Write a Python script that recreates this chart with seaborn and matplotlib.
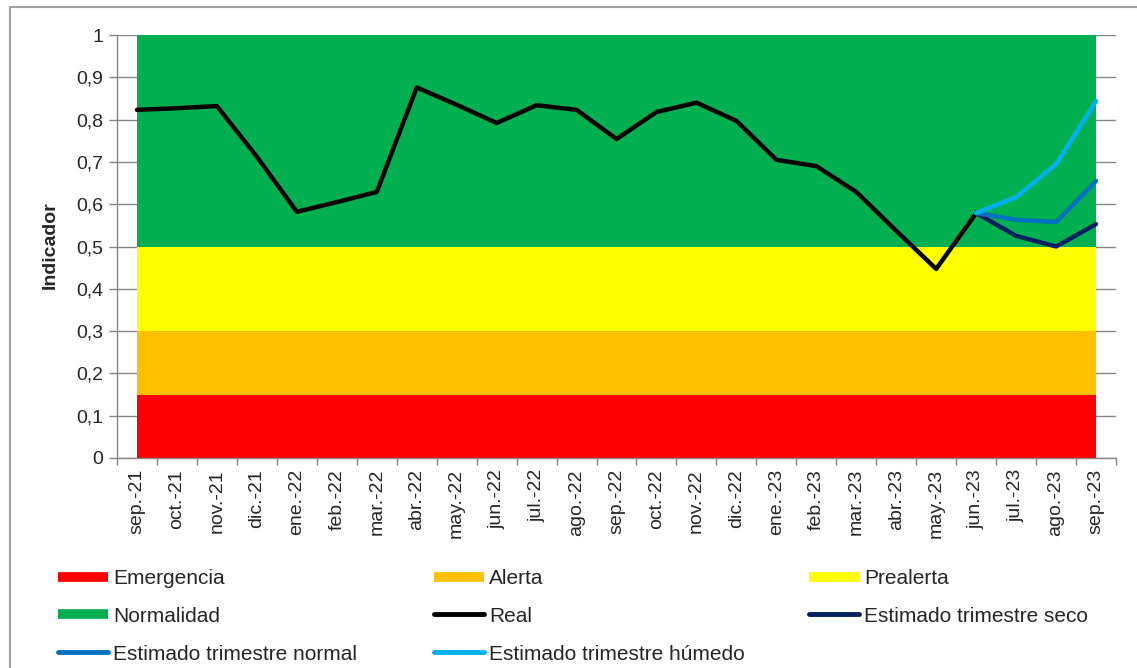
import numpy as np
import pandas as pd
import matplotlib
matplotlib.use("Agg")
import matplotlib.pyplot as plt
import seaborn as sns
from matplotlib.lines import Line2D
from matplotlib.patches import Rectangle

# ---------------- data ----------------
months = ['sep.-21', 'oct.-21', 'nov.-21', 'dic.-21', 'ene.-22', 'feb.-22', 'mar.-22',
          'abr.-22', 'may.-22', 'jun.-22', 'jul.-22', 'ago.-22', 'sep.-22', 'oct.-22',
          'nov.-22', 'dic.-22', 'ene.-23', 'feb.-23', 'mar.-23', 'abr.-23', 'may.-23',
          'jun.-23', 'jul.-23', 'ago.-23', 'sep.-23']

real = [0.823, 0.827, 0.832, 0.712, 0.582, 0.605, 0.629, 0.876, 0.835, 0.792, 0.834,
        0.823, 0.754, 0.818, 0.840, 0.797, 0.705, 0.690, 0.629, 0.537, 0.447, 0.579]

est_months = ['jun.-23', 'jul.-23', 'ago.-23', 'sep.-23']
est_seco = [0.579, 0.525, 0.500, 0.553]
est_normal = [0.579, 0.563, 0.558, 0.655]
est_humedo = [0.579, 0.617, 0.695, 0.844]

band_names = ['Emergencia', 'Alerta', 'Prealerta', 'Normalidad']
band_heights = [0.15, 0.15, 0.20, 0.50]   # stacked thickness of each zone
band_colors = ['#FF0000', '#FFC000', '#FFFF00', '#00B050']

yticks = [0, 0.1, 0.2, 0.3, 0.4, 0.5, 0.6, 0.7, 0.8, 0.9, 1]
ytick_labels = ['0', '0,1', '0,2', '0,3', '0,4', '0,5', '0,6', '0,7', '0,8', '0,9', '1']

line_names = ['Real', 'Estimado trimestre seco', 'Estimado trimestre normal',
              'Estimado trimestre húmedo']
line_colors = ['#000000', '#002060', '#0070C0', '#00B0F0']

# ---------------- style ----------------
sns.set_theme(style="white")
plt.rcParams['font.family'] = ['Liberation Sans', 'DejaVu Sans']

fig = plt.figure(figsize=(11.37, 6.68), dpi=100)
ax = fig.add_axes([117 / 1137, 1 - 458 / 668, (1116 - 117) / 1137, (458 - 35) / 668])

x = np.arange(len(months))
pos = {m: i for i, m in enumerate(months)}

# zones (stacked areas)
ax.stackplot(x, *[np.full(len(months), h) for h in band_heights],
             colors=band_colors, zorder=2, linewidth=0)

# lines
df_real = pd.DataFrame({'x': [pos[m] for m in months[:len(real)]], 'y': real})
est_x = [pos[m] for m in est_months]
df_est = pd.DataFrame({
    'x': est_x * 3,
    'y': est_seco + est_normal + est_humedo,
    'serie': [line_names[1]] * 4 + [line_names[2]] * 4 + [line_names[3]] * 4,
})
sns.lineplot(data=df_real, x='x', y='y', color=line_colors[0], linewidth=3.2,
             ax=ax, zorder=4, legend=False)
sns.lineplot(data=df_est, x='x', y='y', hue='serie',
             palette=dict(zip(line_names[1:], line_colors[1:])),
             linewidth=3.2, ax=ax, zorder=5, legend=False, sort=False)

# axes formatting
ax.set_xlim(-0.5, len(months) - 0.5)
ax.set_ylim(0, 1)
ax.set_yticks(yticks)
ax.set_yticklabels(ytick_labels, fontsize=14)
ax.set_xticks(x)
ax.set_xticklabels(months, rotation=90, fontsize=14)
ax.set_xticks(np.arange(-0.5, len(months), 1), minor=True)
ax.tick_params(axis='x', which='major', length=0, pad=8)
ax.tick_params(axis='x', which='minor', length=5, color='#868686', width=1, direction='out',
               bottom=True)
ax.tick_params(axis='y', length=6, color='#868686', width=1, direction='out', left=True, pad=4)
ax.set_xlabel('')
ax.set_ylabel('')
ax.grid(axis='y', color='#868686', linewidth=1, zorder=1)
ax.grid(axis='x', visible=False)
ax.set_axisbelow(True)
for s in ['top', 'right']:
    ax.spines[s].set_visible(False)
for s in ['left', 'bottom']:
    ax.spines[s].set_color('#868686')
    ax.spines[s].set_linewidth(1)
    ax.spines[s].set_zorder(3)

fig.text(50 / 1137, 1 - 245 / 668, 'Indicador', rotation=90, ha='center', va='center',
         fontsize=14, fontweight='bold')

# outer border
fig.patches.append(Rectangle((10 / 1137, -0.1), 1.2, 1 - 7 / 668 + 0.1, transform=fig.transFigure,
                             fill=False, edgecolor='#A0A0A0', linewidth=1.5))

# legend: built as three columns
def area_handle(c):
    return Line2D([0], [0], color=c, linewidth=7, solid_capstyle='butt')

def line_handle(c):
    return Line2D([0], [0], color=c, linewidth=3.5, solid_capstyle='round')

cols = [
    ([area_handle(band_colors[0]), area_handle(band_colors[3]), line_handle(line_colors[2])],
     [band_names[0], band_names[3], line_names[2]], 58),
    ([area_handle(band_colors[1]), line_handle(line_colors[0]), line_handle(line_colors[3])],
     [band_names[1], line_names[0], line_names[3]], 434),
    ([area_handle(band_colors[2]), line_handle(line_colors[1])],
     [band_names[2], line_names[1]], 809),
]
for handles, labels, xpx in cols:
    leg = fig.legend(handles, labels, loc='upper left',
                     bbox_to_anchor=(xpx / 1137, 1 - 569 / 668),
                     frameon=False, fontsize=15, handlelength=2.4, handletextpad=0.25,
                     labelspacing=0.9, borderpad=0, borderaxespad=0)

fig.savefig('out.png', dpi=100)
